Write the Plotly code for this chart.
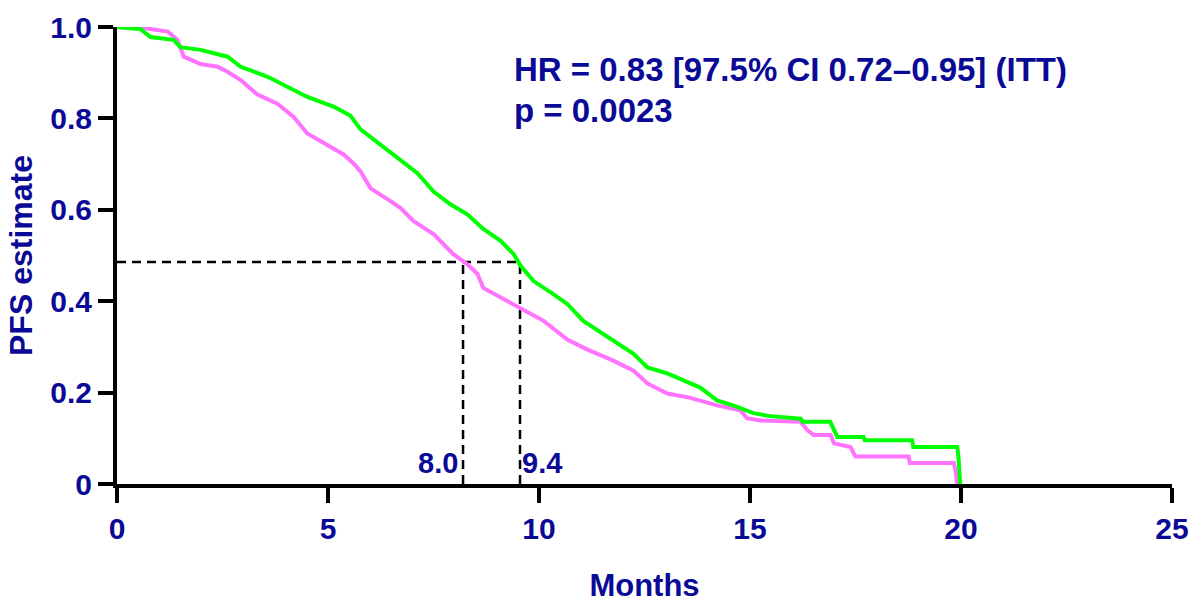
import plotly.graph_objects as go

green_t = [0, 0.56, 0.79, 1.34, 1.50, 1.98, 2.62, 2.93, 3.57, 4.04, 4.51, 5.13, 5.53, 5.77, 6.08,
           6.72, 7.12, 7.50, 7.90, 8.30, 8.68, 9.09, 9.40, 9.56, 9.87, 10.27, 10.67, 11.05, 11.46,
           11.86, 12.24, 12.57, 13.04, 13.82, 14.22, 14.60, 15.08, 15.50, 16.20, 16.25, 16.90,
           17.07, 17.69, 17.72, 18.84, 18.87, 19.91, 19.94, 19.98]
green_s = [1.0, 0.995, 0.978, 0.972, 0.956, 0.95, 0.935, 0.913, 0.891, 0.869, 0.847, 0.826, 0.806,
           0.776, 0.754, 0.708, 0.68, 0.64, 0.612, 0.59, 0.558, 0.532, 0.503, 0.478, 0.444, 0.42,
           0.394, 0.357, 0.333, 0.307, 0.285, 0.255, 0.242, 0.211, 0.183, 0.172, 0.155, 0.148,
           0.143, 0.136, 0.136, 0.103, 0.103, 0.096, 0.096, 0.081, 0.081, 0.06, 0.0]

# control arm, magenta
pink_t = [0, 0.63, 1.20, 1.43, 1.58, 1.98, 2.38, 2.62, 2.93, 3.33, 3.80, 4.18, 4.51, 4.82, 5.13,
          5.37, 5.60, 5.77, 6.01, 6.31, 6.48, 6.72, 7.03, 7.50, 7.97, 8.30, 8.54, 8.68, 9.25, 9.56,
          10.11, 10.67, 11.15, 11.76, 12.24, 12.57, 13.04, 13.52, 14.22, 14.77, 14.93, 15.24,
          16.20, 16.36, 16.51, 16.91, 16.99, 17.38, 17.50, 18.76, 18.79, 19.83, 19.87, 19.91]
pink_s = [1.0, 0.998, 0.99, 0.972, 0.935, 0.919, 0.913, 0.902, 0.884, 0.852, 0.832, 0.804, 0.767,
          0.75, 0.732, 0.721, 0.702, 0.684, 0.647, 0.63, 0.619, 0.604, 0.575, 0.547, 0.503, 0.481,
          0.46, 0.429, 0.401, 0.386, 0.357, 0.316, 0.294, 0.27, 0.248, 0.22, 0.198, 0.19, 0.172,
          0.161, 0.144, 0.139, 0.136, 0.118, 0.107, 0.107, 0.089, 0.081, 0.06, 0.06, 0.046, 0.046,
          0.03, 0.0]

# median guide lines (as drawn) and their labels
median_level = 0.486
median_x = [8.2, 9.55]
median_labels = ["8.0", "9.4"]

x_ticks = [0, 5, 10, 15, 20, 25]
y_ticks = [0, 0.2, 0.4, 0.6, 0.8, 1.0]
y_ticktext = ["0", "0.2", "0.4", "0.6", "0.8", "1.0"]

hr_text = "HR = 0.83 [97.5% CI 0.72–0.95] (ITT)"
p_text = "p = 0.0023"

NAVY = "#0a0a96"
FONT = "Liberation Sans, Arial, sans-serif"

fig = go.Figure()

# dashed median lines
fig.add_trace(go.Scatter(x=[0, max(median_x)], y=[median_level, median_level], mode="lines",
                         line=dict(color="black", width=2.5, dash="9px,6px"), hoverinfo="skip",
                         showlegend=False))
for mx in median_x:
    fig.add_trace(go.Scatter(x=[mx, mx], y=[0, median_level], mode="lines",
                             line=dict(color="black", width=2.5, dash="9px,6px"),
                             hoverinfo="skip", showlegend=False))

fig.add_trace(go.Scatter(x=pink_t, y=pink_s, mode="lines",
                         line=dict(color="#ff73ff", width=4), showlegend=False))
fig.add_trace(go.Scatter(x=green_t, y=green_s, mode="lines",
                         line=dict(color="#00ff00", width=4), showlegend=False))

# median labels
lab_font = dict(family=FONT, size=29, color=NAVY, weight="bold")
fig.add_annotation(x=median_x[0], y=0.046, text=median_labels[0], showarrow=False,
                   xanchor="right", yanchor="middle", xshift=-3, font=lab_font)
fig.add_annotation(x=median_x[1], y=0.046, text=median_labels[1], showarrow=False,
                   xanchor="left", yanchor="middle", xshift=0, font=lab_font)

ann_font = dict(family=FONT, size=33, color=NAVY, weight="bold")
fig.add_annotation(x=9.36, y=0.906, text=hr_text, showarrow=False, xanchor="left",
                   yanchor="middle", font=ann_font)
fig.add_annotation(x=9.36, y=0.818, text=p_text, showarrow=False, xanchor="left",
                   yanchor="middle", font=ann_font)

fig.update_layout(
    width=1194, height=603,
    margin=dict(l=117, r=22, t=27, b=119),
    paper_bgcolor="white", plot_bgcolor="white",
    font=dict(family=FONT, color=NAVY),
    xaxis=dict(range=[0, 25], tickvals=x_ticks, showgrid=False, zeroline=False,
               showline=True, linecolor="black", linewidth=4, ticks="outside", ticklen=15,
               tickwidth=4, tickcolor="black", automargin=False,
               tickfont=dict(family=FONT, size=30, color=NAVY, weight="bold"),
               title=dict(text="Months", standoff=33,
                          font=dict(family=FONT, size=31, color=NAVY, weight="bold"))),
    yaxis=dict(range=[0, 1.0], tickvals=y_ticks, ticktext=y_ticktext, showgrid=False,
               zeroline=False, showline=True, linecolor="black", linewidth=4, ticks="outside",
               ticklen=15, tickwidth=4, tickcolor="black", automargin=False,
               tickfont=dict(family=FONT, size=30, color=NAVY, weight="bold"),
               title=dict(text="PFS estimate", standoff=9,
                          font=dict(family=FONT, size=32, color=NAVY, weight="bold"))),
)

fig.write_html("out.html")
